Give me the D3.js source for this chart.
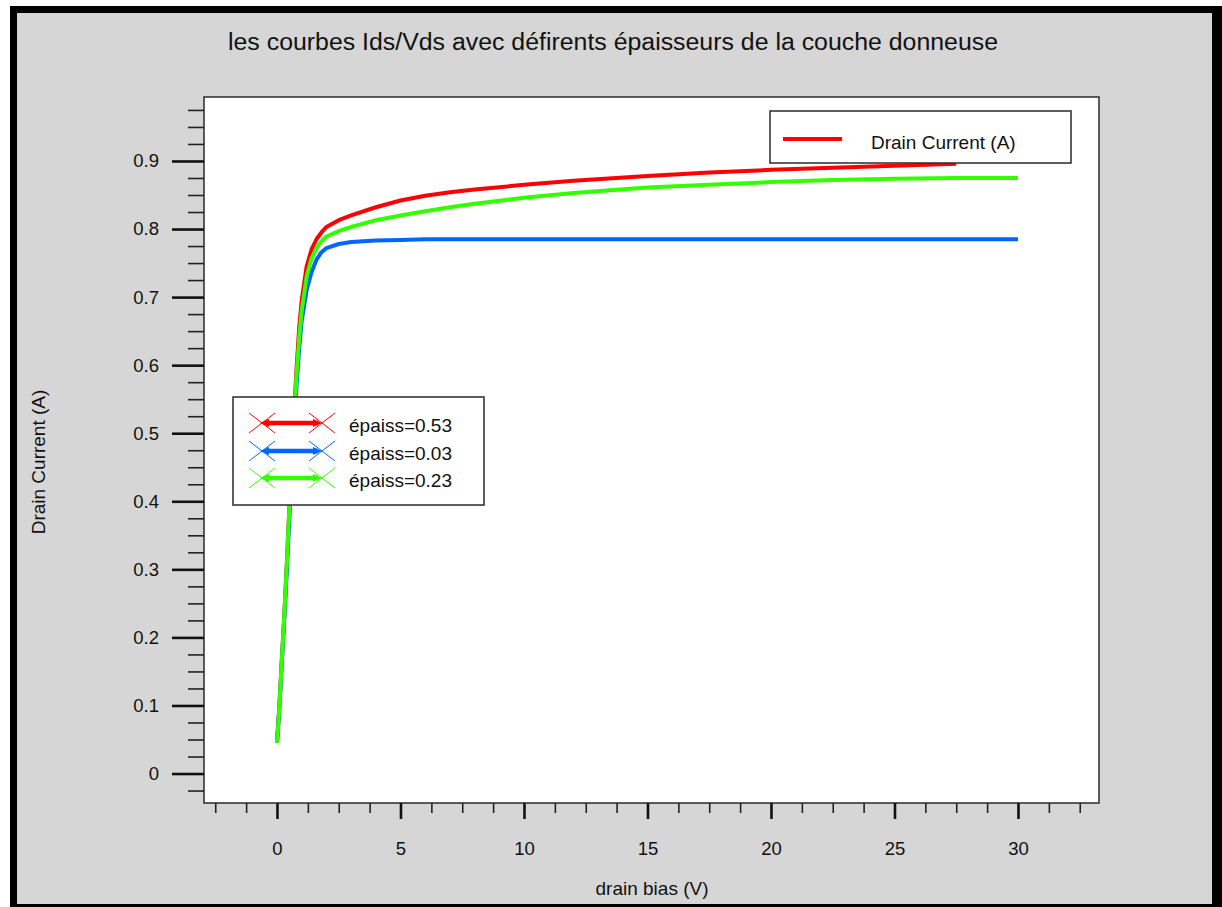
<!DOCTYPE html>
<html lang="fr">
<head>
<meta charset="utf-8">
<script src="https://cdn.jsdelivr.net/npm/d3@7"></script>
<style>
  body { margin: 0; background: #fff; }
  text { font-family: "Liberation Sans", Arial, sans-serif; fill: #111; }
</style>
</head>
<body>
<script>
  // drain bias (V) sample points
  const vds = [0, 0.1, 0.2, 0.3, 0.4, 0.5, 0.6, 0.7, 0.8, 0.9, 1.0, 1.2, 1.4, 1.6, 1.8, 2.0,
               2.5, 3, 4, 5, 6, 7, 8, 10, 12, 15, 17.5, 20, 22.5, 25, 27.5, 30]
  // drain current (A) for each donor layer thickness
  const idsE053 = [0.045, 0.10, 0.17, 0.235, 0.31, 0.39, 0.46, 0.535, 0.60, 0.655, 0.695, 0.745, 0.77, 0.785, 0.795, 0.803,
                   0.813, 0.82, 0.832, 0.842, 0.849, 0.854, 0.858, 0.865, 0.871, 0.878, 0.883, 0.887, 0.89, 0.893, 0.896]
  const idsE003 = [0.045, 0.10, 0.165, 0.23, 0.30, 0.375, 0.445, 0.515, 0.575, 0.625, 0.665, 0.71, 0.737, 0.755, 0.766, 0.772,
                   0.778, 0.781, 0.783, 0.784, 0.785, 0.785, 0.785, 0.785, 0.785, 0.785, 0.785, 0.785, 0.785, 0.785, 0.785, 0.785]
  const idsE023 = [0.045, 0.10, 0.17, 0.235, 0.31, 0.39, 0.46, 0.53, 0.59, 0.64, 0.68, 0.73, 0.757, 0.772, 0.782, 0.789,
                   0.797, 0.803, 0.813, 0.82, 0.826, 0.832, 0.837, 0.846, 0.853, 0.861, 0.865, 0.869, 0.872, 0.874, 0.875, 0.875]
  const seriesNames = ['épaiss=0.53', 'épaiss=0.03', 'épaiss=0.23']
  const seriesColors = ['#ff0000', '#0066ff', '#33ff00']
  const xMajor = [0, 5, 10, 15, 20, 25, 30]
  const yMajor = [0, 0.1, 0.2, 0.3, 0.4, 0.5, 0.6, 0.7, 0.8, 0.9]

  const W = 1222, H = 907
  const plotL = 204, plotT = 97, plotR = 1099, plotB = 803

  const svg = d3.select('body').append('svg')
    .attr('width', W)
    .attr('height', H)

  // window frame
  svg.append('rect').attr('x', 10).attr('y', 6).attr('width', W - 10).attr('height', H - 6).attr('fill', '#000')
  svg.append('rect').attr('x', 17).attr('y', 13).attr('width', 1195).attr('height', 891).attr('fill', '#d6d6d6')

  const x = d3.scaleLinear().domain([-2.955, 33.28]).range([plotL, plotR])
  const y = d3.scaleLinear().domain([-0.0433, 0.994]).range([plotB, plotT])

  svg.append('rect')
    .attr('x', plotL).attr('y', plotT)
    .attr('width', plotR - plotL).attr('height', plotB - plotT)
    .attr('fill', '#fff').attr('stroke', '#2a2a2a').attr('stroke-width', 1.5)

  // minor ticks
  const xMinor = d3.range(-2.5, 33, 1.25).filter(v => Math.abs(v % 5) > 1e-6)
  const yMinor = d3.range(-0.025, 0.99, 0.025).filter(v => Math.abs(Math.round(v * 10) - v * 10) > 1e-6)

  const xMinorAxis = svg.append('g').attr('transform', `translate(0,${plotB})`)
    .call(d3.axisBottom(x).tickValues(xMinor).tickSize(10).tickSizeOuter(0).tickFormat(''))
  const xAxis = svg.append('g').attr('transform', `translate(0,${plotB})`)
    .call(d3.axisBottom(x).tickValues(xMajor).tickSize(16).tickSizeOuter(0).tickPadding(23).tickFormat(d3.format('d')))
  const yMinorAxis = svg.append('g').attr('transform', `translate(${plotL},0)`)
    .call(d3.axisLeft(y).tickValues(yMinor).tickSize(16).tickSizeOuter(0).tickFormat(''))
  const yAxis = svg.append('g').attr('transform', `translate(${plotL},0)`)
    .call(d3.axisLeft(y).tickValues(yMajor).tickSize(32).tickSizeOuter(0).tickPadding(13)
      .tickFormat(d => d === 0 ? '0' : d3.format('.1f')(d)))

  for (const g of [xMinorAxis, xAxis, yMinorAxis, yAxis]) {
    g.select('.domain').remove()
    g.selectAll('text').attr('font-size', 18.5).attr('fill', '#111')
      .style('font-family', '"Liberation Sans", Arial, sans-serif')
  }
  xMinorAxis.selectAll('line').attr('stroke', '#222').attr('stroke-width', 1.6)
  yMinorAxis.selectAll('line').attr('stroke', '#222').attr('stroke-width', 1.6)
  xAxis.selectAll('line').attr('stroke', '#111').attr('stroke-width', 2.6)
  yAxis.selectAll('line').attr('stroke', '#111').attr('stroke-width', 2.6)

  // curves
  const allIds = [idsE053, idsE003, idsE023]
  const line = d3.line()
    .x(d => x(d[0]))
    .y(d => y(d[1]))

  allIds.forEach((ids, i) => {
    const pts = ids.map((v, j) => [vds[j], v])
    svg.append('path')
      .datum(pts)
      .attr('d', line)
      .attr('fill', 'none')
      .attr('stroke', seriesColors[i])
      .attr('stroke-width', 4)
      .attr('stroke-linejoin', 'round')
  })

  // legend: top right
  svg.append('rect').attr('x', 770).attr('y', 111).attr('width', 301).attr('height', 52)
    .attr('fill', '#fff').attr('stroke', '#2a2a2a').attr('stroke-width', 1.5)
  svg.append('line').attr('x1', 783).attr('x2', 842).attr('y1', 139).attr('y2', 139)
    .attr('stroke', '#ff0000').attr('stroke-width', 4)
  svg.append('text').attr('x', 871).attr('y', 142).attr('dy', '0.35em')
    .attr('font-size', 19).text('Drain Current (A)')

  // legend: series
  svg.append('rect').attr('x', 233).attr('y', 397).attr('width', 251).attr('height', 108)
    .attr('fill', '#fff').attr('stroke', '#2a2a2a').attr('stroke-width', 1.5)

  const rowY = [423, 451, 478]
  seriesNames.forEach((name, i) => {
    const g = svg.append('g').attr('transform', `translate(0,${rowY[i]})`)
    const c = seriesColors[i]
    for (const cx of [262, 322]) {
      g.append('line').attr('x1', cx - 13).attr('y1', -10).attr('x2', cx + 13).attr('y2', 10)
        .attr('stroke', c).attr('stroke-width', 1)
      g.append('line').attr('x1', cx - 13).attr('y1', 10).attr('x2', cx + 13).attr('y2', -10)
        .attr('stroke', c).attr('stroke-width', 1)
    }
    g.append('line').attr('x1', 266).attr('x2', 318).attr('y1', 0).attr('y2', 0)
      .attr('stroke', c).attr('stroke-width', 4.5)
    g.append('path').attr('d', 'M260,0 L269,-4 L269,4 Z').attr('fill', c)
    g.append('path').attr('d', 'M322,0 L313,-4 L313,4 Z').attr('fill', c)
    g.append('text').attr('x', 349).attr('y', 2).attr('dy', '0.35em')
      .attr('font-size', 19).text(name)
  })

  // titles
  svg.append('text').attr('x', 613).attr('y', 42).attr('dy', '0.35em')
    .attr('text-anchor', 'middle').attr('font-size', 23)
    .attr('textLength', 770).attr('lengthAdjust', 'spacingAndGlyphs')
    .text('les courbes Ids/Vds avec défirents épaisseurs de la couche donneuse')

  svg.append('text').attr('x', 652).attr('y', 888).attr('dy', '0.35em')
    .attr('text-anchor', 'middle').attr('font-size', 19)
    .text('drain bias (V)')

  svg.append('text')
    .attr('transform', 'translate(38,462) rotate(-90)')
    .attr('dy', '0.35em')
    .attr('text-anchor', 'middle').attr('font-size', 19)
    .text('Drain Current (A)')
</script>
</body>
</html>
